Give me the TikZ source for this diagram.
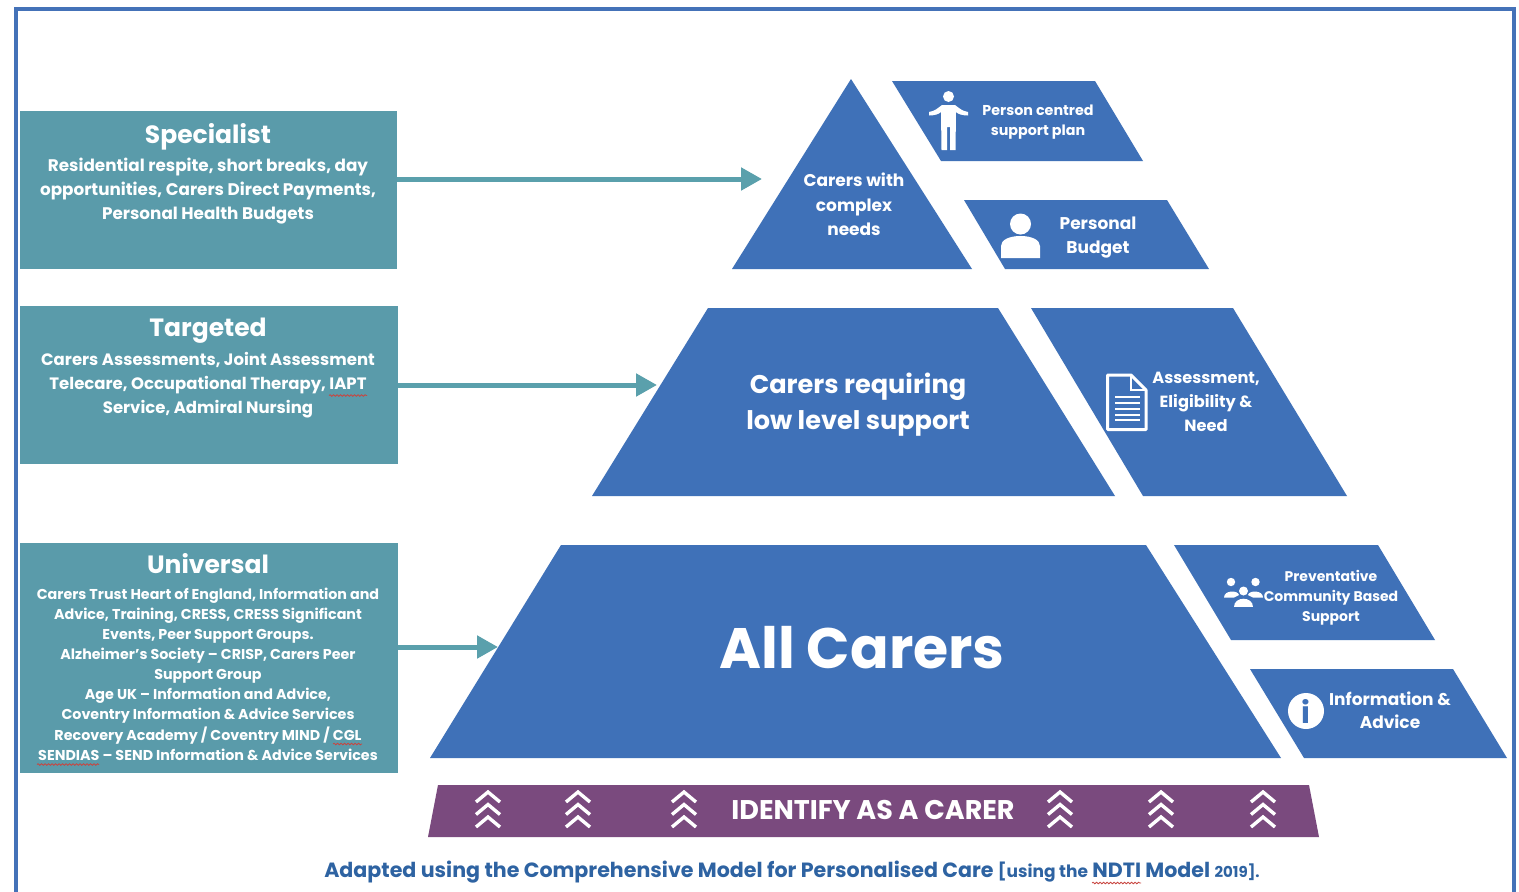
\documentclass[tikz,border=0pt]{standalone}
\usepackage{fontspec}
\setmainfont{Poppins}
\usetikzlibrary{arrows.meta,decorations.pathmorphing}
\definecolor{frameblue}{HTML}{4472B8}
\definecolor{pyrblue}{HTML}{3F71B8}
\definecolor{tealbox}{HTML}{5A9BAA}
\definecolor{tealarrow}{HTML}{5AA0AC}
\definecolor{purp}{HTML}{7A4A7E}
\definecolor{captionblue}{HTML}{2E63A2}
\definecolor{squig}{HTML}{C8453F}
\newcommand{\fs}[2]{\fontsize{#1}{#2}\selectfont}
\tikzset{
  boxnode/.style={fill=tealbox,draw=none,inner sep=0pt,anchor=north west},
  pyr/.style={fill=pyrblue,draw=none},
  flow/.style={draw=tealarrow,line width=5pt,-{Triangle[length=21pt,width=22pt]}},
  lbl/.style 2 args={text=white,align=center,inner sep=0pt,font=\bfseries\fs{#1}{#2}},
  iconw/.style={fill=white,draw=none},
  chev/.style={draw=white,line width=3.4pt,fill=none},
  squiggle/.style={draw=squig,line width=0.8pt,decorate,decoration={snake,amplitude=0.8pt,segment length=3.5pt}}
}
\newcommand{\chevrons}[1]{%
  \foreach \dy in {0,12.5,25}{
    \draw[chev] (#1-12,802+\dy) -- (#1,792+\dy) -- (#1+12,802+\dy);
  }}
\begin{document}
\begin{tikzpicture}[x=1pt,y=-1pt]
\useasboundingbox (0,0) rectangle (1519,892);
\fill[white] (0,0) rectangle (1519,892);
% frame
\draw[frameblue,line width=4pt] (15.5,892) -- (15.5,8.5) -- (1513.5,8.5) -- (1513.5,892);
% left boxes
\node[boxnode,minimum width=377pt,minimum height=158pt] (spec) at (20,111) {};
\node[boxnode,minimum width=378pt,minimum height=158pt] (targ) at (20,306) {};
\node[boxnode,minimum width=378pt,minimum height=230pt] (univ) at (20,543) {};
% pyramid shapes
\fill[pyr] (851,79) -- (972,269) -- (732,269) -- cycle;
\fill[pyr] (892,81) -- (1095,81) -- (1143,161) -- (941,161) -- cycle;
\fill[pyr] (964,200) -- (1167,200) -- (1209,269) -- (1005,269) -- cycle;
\fill[pyr] (708,308) -- (998,308) -- (1115,496) -- (592,496) -- cycle;
\fill[pyr] (1031,308) -- (1233,308) -- (1347,496) -- (1143,496) -- cycle;
\fill[pyr] (561,545) -- (1146,545) -- (1281,758) -- (430,758) -- cycle;
\fill[pyr] (1174,545) -- (1378,545) -- (1435,640) -- (1231,640) -- cycle;
\fill[pyr] (1250,669) -- (1453,669) -- (1507,758) -- (1304,758) -- cycle;
\fill[purp] (438,785) -- (1309,785) -- (1319,837) -- (428,837) -- cycle;
% arrow ends
\coordinate (tipa) at (762,179);
\coordinate (tipb) at (657,385);
\coordinate (tipc) at (498,647);
\draw[flow] (spec.east |- tipa) -- (tipa);
\draw[flow] (targ.east |- tipb) -- (tipb);
\draw[flow] (univ.east |- tipc) -- (tipc);
% left texts
\node[lbl={25}{30}] (t1) at (208,137) {Specialist};
\node[lbl={16.8}{24}] (t1b) at (208,191) {Residential respite, short breaks, day\\opportunities, Carers Direct Payments,\\Personal Health Budgets};
\node[lbl={25}{30}] (t2) at (208,331) {Targeted};
\node[lbl={16.5}{24.3}] (t2b) at (208,385) {Carers Assessments, Joint Assessment\\Telecare, Occupational Therapy, IAPT\\Service, Admiral Nursing};
\node[lbl={25}{30}] (t3) at (208,564) {Universal};
\node[lbl={14.3}{20.15}] (t3b) at (208,674) {Carers Trust Heart of England, Information and\\Advice, Training, CRESS, CRESS Significant\\Events, Peer Support Groups.\\Alzheimer’s Society – CRISP, Carers Peer\\Support Group\\Age UK – Information and Advice,\\Coventry Information \& Advice Services\\Recovery Academy / Coventry MIND / CGL\\SENDIAS – SEND Information \& Advice Services};
% squiggles
\draw[squiggle] (329,395.5) -- (367,395.5);
\draw[squiggle] (333,744) -- (362,744);
\draw[squiggle] (37,764.5) -- (99,764.5);
\draw[squiggle] (1092,883) -- (1141,883);
% pyramid labels
\node[lbl={17}{24.5}] (l1) at (854,204.5) {Carers with\\complex\\needs};
\node[lbl={14.3}{20.5}] (l2) at (1038,122) {Person centred\\support plan};
\node[lbl={17}{24}] (l3) at (1098,237.5) {Personal\\Budget};
\node[lbl={25.6}{36}] (l4) at (858,405) {Carers requiring\\low level support};
\node[lbl={16.2}{24}] (l5) at (1206,401.5) {Assessment,\\Eligibility \&\\Need};
\node[lbl={57}{66}] (l6) at (862,648) {All Carers};
\node[lbl={14}{20.2}] (l7) at (1331,597.5) {Preventative\\Community Based\\Support};
\node[lbl={17}{23.5}] (l8) at (1390,710) {Information \&\\Advice};
\node[lbl={27}{30}] (l9) at (873,810) {IDENTIFY AS A CARER};
\node[text=captionblue,font=\bfseries,inner sep=0pt] (cap) at (792,872) {\fs{20.6}{26}Adapted using the Comprehensive Model for Personalised Care {\fs{17}{26}[using the} NDTI Model {\fs{15}{26}2019].}};
% chevrons
\chevrons{488}\chevrons{578}\chevrons{684}\chevrons{1060}\chevrons{1161}\chevrons{1263}
% person icon
\fill[iconw] (948.5,96.5) circle (5.5);
\fill[iconw] (942,105) -- (955,105) .. controls (959,108) and (962,111) .. (968,112) -- (968,115.5) .. controls (962,115.5) and (958,114) .. (956,112) -- (955.5,150) -- (950,150) -- (950,127) -- (947,127) -- (947,150) -- (941.5,150) -- (941,112) .. controls (939,114) and (935,115.5) .. (929,115.5) -- (929,112) .. controls (935,111) and (938,108) .. (942,105) -- cycle;
% budget person icon
\fill[iconw] (1020.5,224) circle (10.5);
\fill[iconw] (1001,258) -- (1001,246) .. controls (1001,240) and (1009,236) .. (1020.5,236) .. controls (1032,236) and (1040,240) .. (1040,246) -- (1040,258) -- cycle;
% document icon
\draw[white,line width=3pt,line join=round] (1107.5,375) -- (1131,375) -- (1146,390) -- (1146,429.5) -- (1107.5,429.5) -- cycle;
\draw[white,line width=2.5pt] (1131,375) -- (1131,390) -- (1146,390);
\foreach \yy in {397,403,409,415,420}{\draw[white,line width=2pt] (1115,\yy) -- (1140,\yy);}
% group icon
\fill[iconw] (1231,582) circle (4.2);
\fill[iconw] (1255.5,582) circle (4.2);
\fill[iconw] (1243.5,591) circle (4.5);
\fill[iconw] (1224,597.5) .. controls (1224,590) and (1238,590) .. (1239,595) -- (1234,597.5) -- cycle;
\fill[iconw] (1263,597.5) .. controls (1263,590) and (1249,590) .. (1248,595) -- (1253,597.5) -- cycle;
\fill[iconw] (1234,607) .. controls (1234,596) and (1253,596) .. (1253,607) -- cycle;
% info icon
\fill[iconw] (1306,711) circle (18);
\node[inner sep=0pt,text=pyrblue,font=\bfseries\fs{30}{30}] (infoi) at (1305.5,711) {i};
\end{tikzpicture}
\end{document}
